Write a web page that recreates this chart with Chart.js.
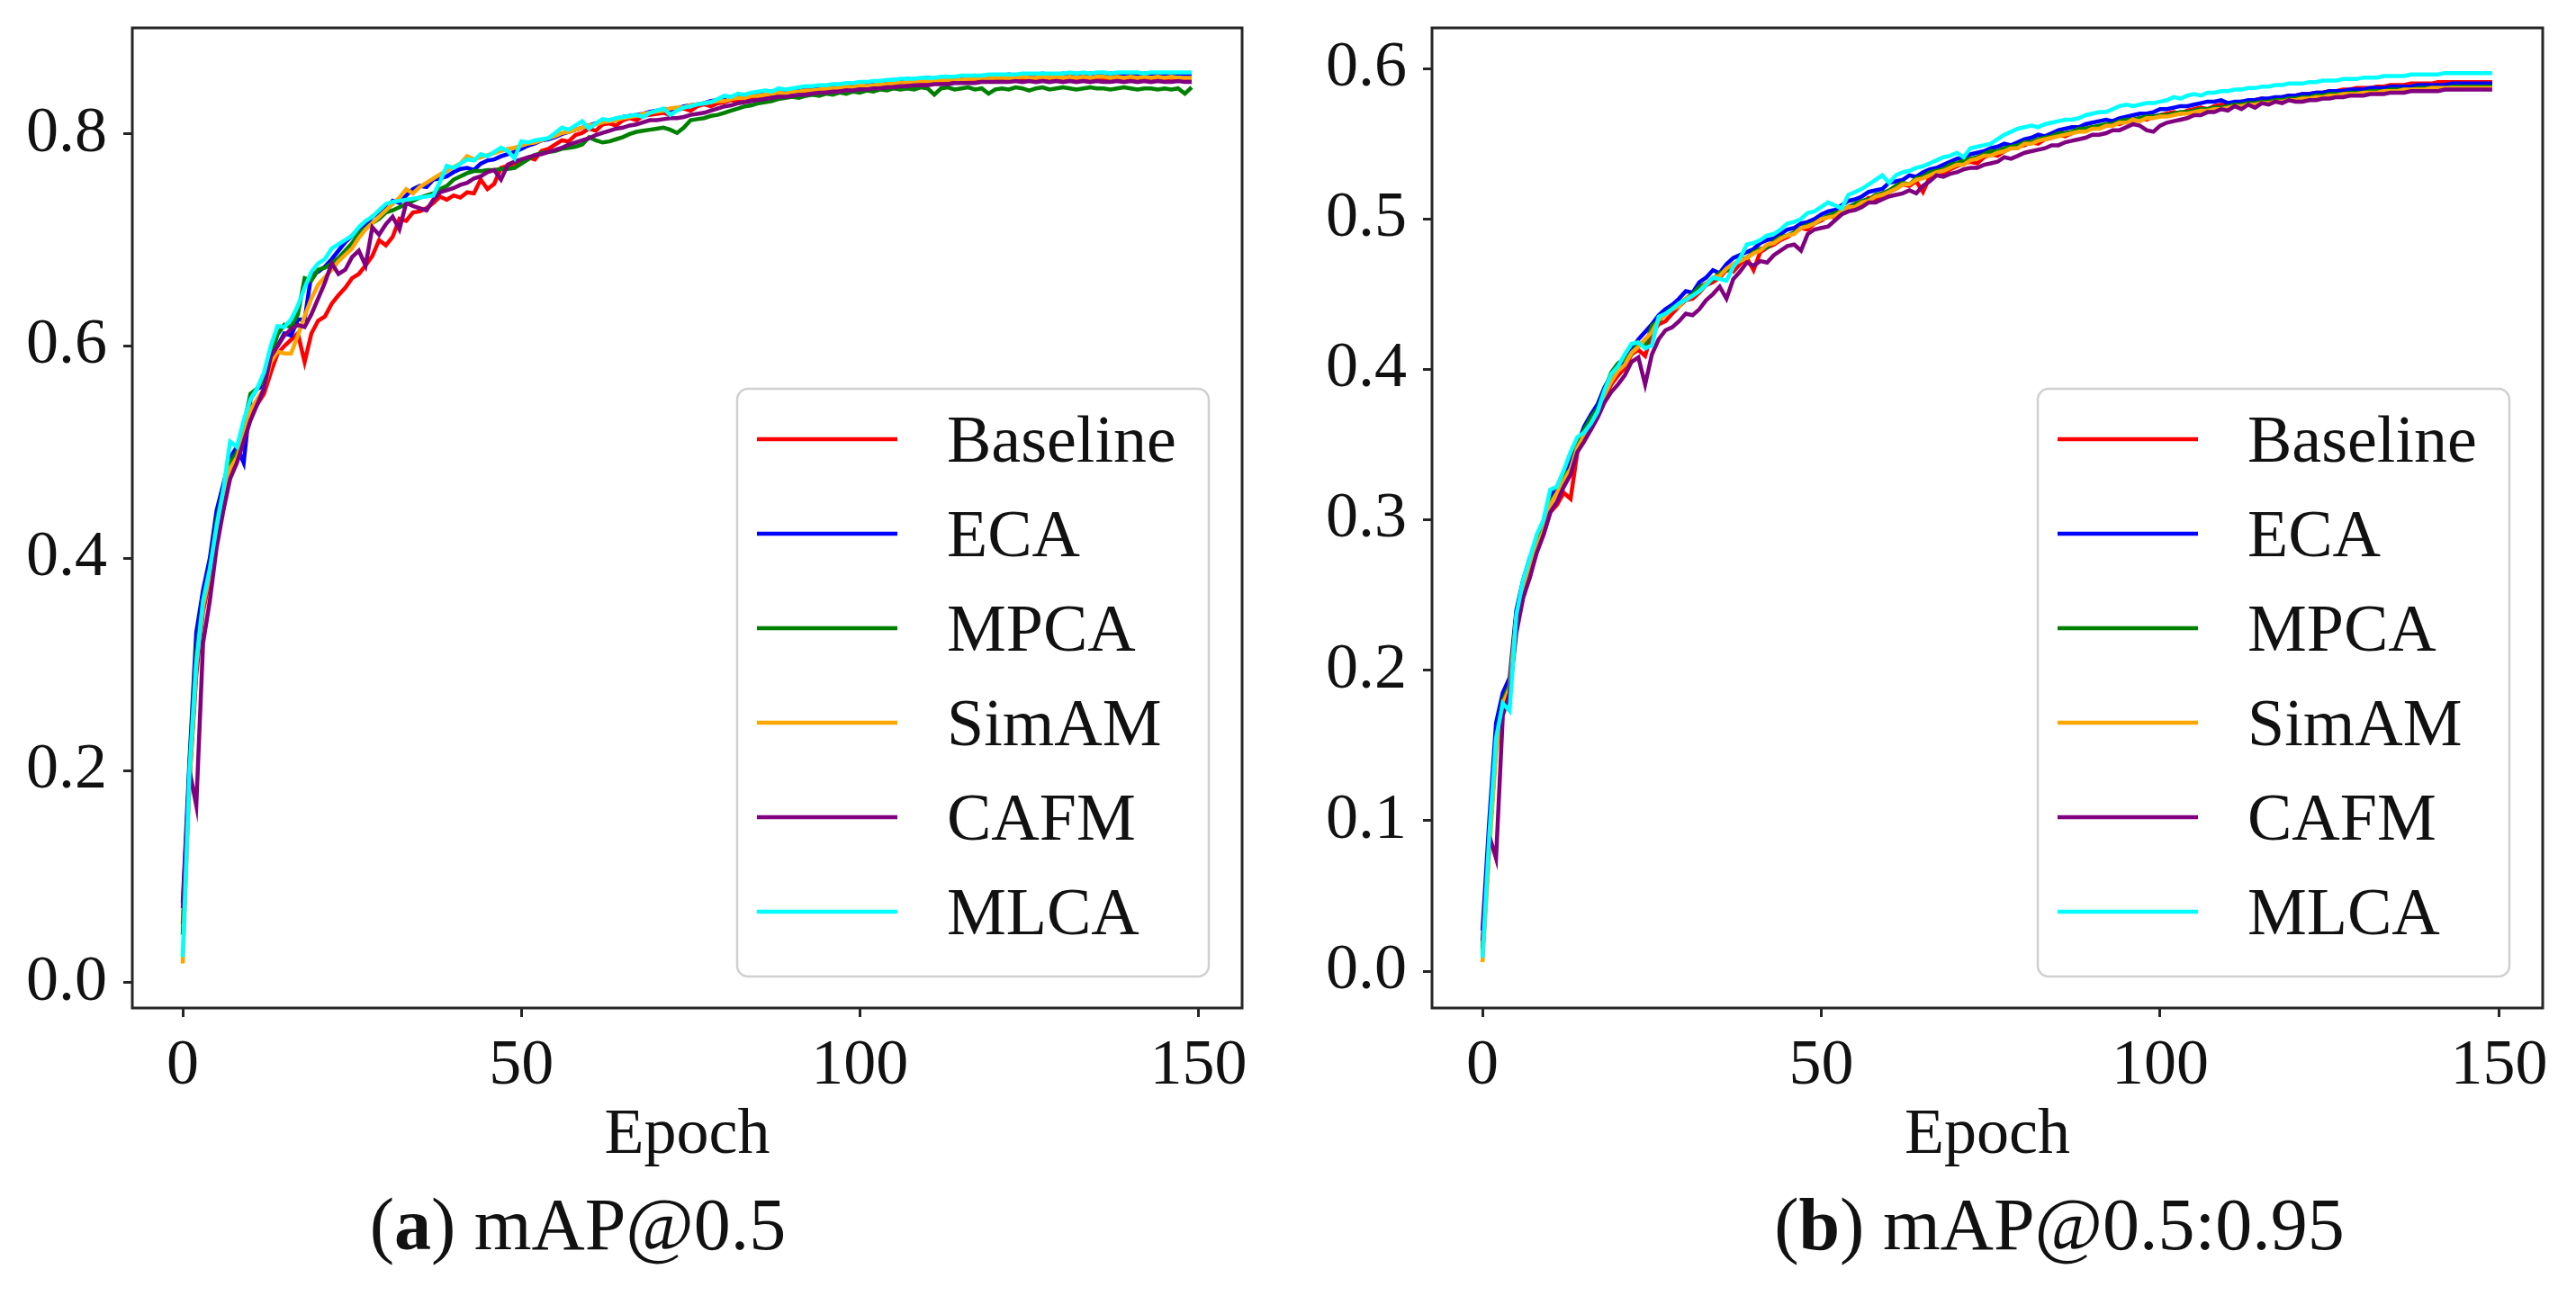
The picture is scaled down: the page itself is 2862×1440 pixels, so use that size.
<!DOCTYPE html>
<html>
<head>
<meta charset="utf-8">
<script src="https://cdn.jsdelivr.net/npm/chart.js@4.4.1/dist/chart.umd.min.js"></script>
<style>
  html, body { margin: 0; padding: 0; background: #fff; }
  #page { position: relative; width: 2862px; height: 1440px; background: #fff; overflow: hidden; }
  canvas { position: absolute; top: 0; }
  .caption {
    position: absolute; width: 900px; text-align: center;
    font-family: "Liberation Serif", "Times New Roman", serif; font-size: 82px;
    line-height: 80px; color: #111; white-space: nowrap;
  }
</style>
</head>
<body>
<div id="page">
  <canvas id="chartA" width="1431" height="1320" style="left:0px"></canvas>
  <canvas id="chartB" width="1431" height="1320" style="left:1431px"></canvas>
  <div class="caption" style="left:192px; top:1321px">(<b>a</b>) mAP@0.5</div>
  <div class="caption" style="left:1838px; top:1321px">(<b>b</b>) mAP@0.5:0.95</div>
</div>
<script>
// ---- data ----
const epochs = Array.from({ length: 150 }, (_, i) => i);
const modelNames = ['Baseline', 'ECA', 'MPCA', 'SimAM', 'CAFM', 'MLCA'];
const modelColors = ['#ff0000', '#0000ff', '#008000', '#ffa500', '#800080', '#00ffff'];
const xTicks = [0, 50, 100, 150];
const map50Ticks = [0.0, 0.2, 0.4, 0.6, 0.8];
const map5095Ticks = [0.0, 0.1, 0.2, 0.3, 0.4, 0.5, 0.6];

// mAP@0.5
const map50Baseline = [
  0.055, 0.19, 0.29, 0.35, 0.38, 0.42, 0.45, 0.48, 0.495, 0.51,
  0.535, 0.545, 0.555, 0.575, 0.593, 0.60, 0.606, 0.612, 0.585, 0.612,
  0.624, 0.628, 0.64, 0.648, 0.655, 0.664, 0.668, 0.676, 0.685, 0.70,
  0.695, 0.703, 0.72, 0.718, 0.726, 0.727, 0.73, 0.735, 0.741, 0.738,
  0.742, 0.74, 0.745, 0.744, 0.757, 0.748, 0.753, 0.768, 0.77, 0.772,
  0.775, 0.778, 0.776, 0.784, 0.786, 0.79, 0.794, 0.793, 0.799, 0.801,
  0.805, 0.803, 0.809, 0.81, 0.808, 0.813, 0.815, 0.813, 0.817, 0.818,
  0.819, 0.82, 0.818, 0.823, 0.824, 0.822, 0.826, 0.828, 0.826, 0.829,
  0.83, 0.832, 0.83, 0.834, 0.833, 0.835, 0.837, 0.835, 0.838, 0.838,
  0.839, 0.84, 0.838, 0.841, 0.842, 0.84, 0.843, 0.842, 0.844, 0.843,
  0.845, 0.844, 0.846, 0.845, 0.847, 0.846, 0.848, 0.847, 0.848, 0.849,
  0.848, 0.849, 0.85, 0.849, 0.85, 0.849, 0.85, 0.851, 0.85, 0.851,
  0.851, 0.852, 0.85, 0.852, 0.851, 0.852, 0.853, 0.852, 0.852, 0.853,
  0.852, 0.853, 0.852, 0.853, 0.852, 0.853, 0.852, 0.853, 0.852, 0.853,
  0.852, 0.853, 0.852, 0.852, 0.853, 0.852, 0.853, 0.852, 0.852, 0.852
];
const map50ECA = [
  0.075, 0.21, 0.33, 0.37, 0.40, 0.445, 0.47, 0.495, 0.505, 0.49,
  0.55, 0.56, 0.562, 0.595, 0.60, 0.612, 0.61, 0.625, 0.625, 0.668,
  0.67, 0.675, 0.682, 0.69, 0.698, 0.704, 0.71, 0.714, 0.722, 0.726,
  0.73, 0.737, 0.735, 0.742, 0.748, 0.751, 0.75, 0.757, 0.758, 0.76,
  0.764, 0.767, 0.768, 0.766, 0.772, 0.775, 0.776, 0.779, 0.781, 0.783,
  0.786, 0.789, 0.791, 0.794, 0.795, 0.797, 0.80, 0.802, 0.804, 0.806,
  0.808, 0.81, 0.811, 0.813, 0.814, 0.816, 0.817, 0.818, 0.819, 0.821,
  0.822, 0.823, 0.823, 0.824, 0.826, 0.827, 0.828, 0.829, 0.831, 0.832,
  0.833, 0.834, 0.836, 0.835, 0.837, 0.838, 0.839, 0.84, 0.839, 0.841,
  0.842, 0.841, 0.843, 0.844, 0.843, 0.845, 0.846, 0.845, 0.847, 0.846,
  0.848, 0.847, 0.849, 0.85, 0.849, 0.851, 0.85, 0.852, 0.851, 0.852,
  0.853, 0.852, 0.853, 0.854, 0.853, 0.854, 0.853, 0.855, 0.854, 0.855,
  0.854, 0.855, 0.856, 0.855, 0.856, 0.855, 0.856, 0.857, 0.856, 0.856,
  0.857, 0.856, 0.857, 0.856, 0.857, 0.857, 0.856, 0.857, 0.857, 0.856,
  0.857, 0.856, 0.857, 0.857, 0.856, 0.857, 0.856, 0.857, 0.856, 0.856
];
const map50MPCA = [
  0.045, 0.205, 0.31, 0.36, 0.39, 0.435, 0.465, 0.49, 0.50, 0.525,
  0.555, 0.56, 0.57, 0.59, 0.611, 0.62, 0.618, 0.63, 0.664, 0.662,
  0.672, 0.674, 0.678, 0.683, 0.69, 0.697, 0.706, 0.711, 0.716, 0.72,
  0.726, 0.728, 0.731, 0.734, 0.737, 0.74, 0.742, 0.744, 0.748, 0.751,
  0.757, 0.76, 0.763, 0.765, 0.765, 0.766, 0.766, 0.767, 0.767, 0.768,
  0.772, 0.776, 0.78, 0.782, 0.783, 0.784, 0.786, 0.787, 0.788, 0.79,
  0.797, 0.794, 0.792, 0.793, 0.795, 0.797, 0.80, 0.802, 0.803, 0.804,
  0.805, 0.806, 0.804, 0.801, 0.806, 0.813, 0.814, 0.815, 0.817, 0.818,
  0.82, 0.822, 0.824, 0.826, 0.827, 0.829, 0.83, 0.831, 0.833, 0.834,
  0.835, 0.834, 0.836, 0.837, 0.836, 0.838, 0.837, 0.839, 0.838, 0.84,
  0.839, 0.841, 0.84, 0.842, 0.841, 0.843, 0.842, 0.843, 0.842, 0.844,
  0.843, 0.837, 0.843, 0.844, 0.842, 0.843, 0.844, 0.842, 0.843, 0.838,
  0.842, 0.843, 0.842, 0.844, 0.843, 0.841, 0.843, 0.844, 0.842, 0.843,
  0.844, 0.843, 0.842, 0.843, 0.844, 0.843, 0.843, 0.842, 0.843, 0.844,
  0.843, 0.842, 0.843, 0.843, 0.842, 0.843, 0.842, 0.843, 0.838, 0.844
];
const map50SimAM = [
  0.018, 0.19, 0.30, 0.355, 0.385, 0.425, 0.455, 0.485, 0.495, 0.515,
  0.54, 0.55, 0.56, 0.585, 0.595, 0.593, 0.593, 0.61, 0.628, 0.645,
  0.658, 0.665, 0.672, 0.68, 0.686, 0.692, 0.702, 0.71, 0.716, 0.722,
  0.728, 0.734, 0.74, 0.748, 0.744, 0.75, 0.754, 0.758, 0.762, 0.765,
  0.769, 0.772, 0.779, 0.776, 0.778, 0.78, 0.782, 0.784, 0.786, 0.787,
  0.789, 0.791, 0.792, 0.794, 0.796, 0.798, 0.801, 0.802, 0.804, 0.806,
  0.808, 0.809, 0.811, 0.812, 0.813, 0.815, 0.816, 0.817, 0.819, 0.82,
  0.821, 0.822, 0.824, 0.825, 0.825, 0.827, 0.828, 0.829, 0.83, 0.831,
  0.831, 0.833, 0.834, 0.834, 0.836, 0.836, 0.837, 0.838, 0.839, 0.838,
  0.84, 0.84, 0.841, 0.841, 0.842, 0.843, 0.843, 0.844, 0.845, 0.844,
  0.846, 0.845, 0.846, 0.847, 0.847, 0.848, 0.848, 0.849, 0.849, 0.85,
  0.85, 0.85, 0.851, 0.851, 0.852, 0.851, 0.852, 0.852, 0.853, 0.852,
  0.853, 0.853, 0.852, 0.853, 0.854, 0.853, 0.853, 0.854, 0.853, 0.854,
  0.853, 0.854, 0.853, 0.854, 0.853, 0.854, 0.854, 0.853, 0.854, 0.853,
  0.854, 0.853, 0.854, 0.853, 0.854, 0.853, 0.854, 0.853, 0.853, 0.853
];
const map50CAFM = [
  0.07, 0.20, 0.167, 0.32, 0.36, 0.41, 0.445, 0.475, 0.49, 0.51,
  0.53, 0.545, 0.56, 0.59, 0.60, 0.61, 0.616, 0.62, 0.618, 0.63,
  0.645, 0.66, 0.678, 0.668, 0.672, 0.684, 0.69, 0.676, 0.712, 0.705,
  0.715, 0.722, 0.71, 0.735, 0.732, 0.73, 0.728, 0.738, 0.745, 0.747,
  0.749, 0.752, 0.754, 0.758, 0.76, 0.764, 0.766, 0.757, 0.771, 0.774,
  0.776, 0.778, 0.78, 0.781, 0.783, 0.785, 0.787, 0.79, 0.792, 0.794,
  0.796, 0.799, 0.801, 0.803, 0.805, 0.806, 0.808, 0.809, 0.811, 0.813,
  0.813, 0.814, 0.815, 0.815, 0.816, 0.818, 0.819, 0.82, 0.822, 0.824,
  0.826, 0.827, 0.829, 0.83, 0.831, 0.832, 0.833, 0.834, 0.835, 0.835,
  0.836, 0.837, 0.837, 0.838, 0.839, 0.839, 0.84, 0.84, 0.841, 0.841,
  0.842, 0.842, 0.843, 0.843, 0.844, 0.844, 0.845, 0.845, 0.846, 0.846,
  0.846, 0.847, 0.847, 0.847, 0.848, 0.848, 0.848, 0.848, 0.849, 0.849,
  0.849, 0.849, 0.849, 0.85, 0.849, 0.85, 0.849, 0.85, 0.849, 0.85,
  0.849, 0.85, 0.849, 0.85, 0.849, 0.85, 0.849, 0.849, 0.85, 0.849,
  0.85, 0.849, 0.85, 0.849, 0.85, 0.849, 0.849, 0.85, 0.849, 0.849
];
const map50MLCA = [
  0.024, 0.20, 0.30, 0.36, 0.39, 0.43, 0.465, 0.51, 0.505, 0.53,
  0.55, 0.56, 0.575, 0.60, 0.619, 0.618, 0.625, 0.638, 0.655, 0.67,
  0.678, 0.682, 0.692, 0.696, 0.70, 0.704, 0.712, 0.718, 0.722, 0.728,
  0.734, 0.736, 0.737, 0.738, 0.739, 0.74, 0.741, 0.742, 0.755, 0.77,
  0.768, 0.772, 0.776, 0.775, 0.781, 0.779, 0.783, 0.787, 0.784, 0.777,
  0.793, 0.792, 0.794, 0.795, 0.796, 0.801, 0.806, 0.804, 0.808, 0.812,
  0.805, 0.81, 0.814, 0.813, 0.815, 0.816, 0.817, 0.818, 0.816, 0.82,
  0.822, 0.824, 0.818, 0.822, 0.825, 0.826, 0.828, 0.829, 0.83, 0.833,
  0.836, 0.835, 0.838, 0.837, 0.839, 0.84, 0.841, 0.84, 0.843, 0.842,
  0.843, 0.844, 0.845, 0.845, 0.846, 0.846, 0.847, 0.847, 0.848, 0.848,
  0.849, 0.849, 0.85, 0.85, 0.851, 0.851, 0.852, 0.852, 0.852, 0.853,
  0.853, 0.853, 0.854, 0.854, 0.854, 0.855, 0.855, 0.855, 0.855, 0.856,
  0.856, 0.856, 0.856, 0.856, 0.857, 0.857, 0.857, 0.857, 0.857, 0.857,
  0.857, 0.858, 0.857, 0.858, 0.857, 0.858, 0.858, 0.857, 0.858, 0.858,
  0.858, 0.858, 0.857, 0.858, 0.858, 0.858, 0.858, 0.858, 0.858, 0.858
];

// mAP@0.5:0.95
const map5095Baseline = [
  0.015, 0.085, 0.15, 0.175, 0.185, 0.23, 0.25, 0.262, 0.28, 0.29,
  0.305, 0.31, 0.318, 0.314, 0.345, 0.355, 0.36, 0.37, 0.38, 0.39,
  0.396, 0.401, 0.41, 0.413, 0.409, 0.424, 0.43, 0.432, 0.437, 0.442,
  0.446, 0.447, 0.451, 0.456, 0.458, 0.461, 0.466, 0.465, 0.47, 0.474,
  0.466, 0.478, 0.481, 0.483, 0.486, 0.488, 0.491, 0.494, 0.493, 0.497,
  0.499, 0.502, 0.501, 0.505, 0.508, 0.509, 0.511, 0.514, 0.513, 0.516,
  0.518, 0.52, 0.523, 0.522, 0.525, 0.518, 0.528, 0.531, 0.53, 0.533,
  0.535, 0.537, 0.538, 0.537, 0.541, 0.543, 0.542, 0.545, 0.547, 0.548,
  0.549, 0.551, 0.55, 0.553, 0.554, 0.556, 0.555, 0.557, 0.559, 0.56,
  0.561, 0.56, 0.562, 0.564, 0.563, 0.565, 0.566, 0.567, 0.566, 0.568,
  0.569, 0.57, 0.571, 0.57, 0.572, 0.573, 0.574, 0.573, 0.575, 0.576,
  0.576, 0.577, 0.578, 0.577, 0.579, 0.58, 0.579, 0.58, 0.581, 0.582,
  0.582, 0.583, 0.583, 0.584, 0.584, 0.585, 0.585, 0.586, 0.586, 0.587,
  0.587, 0.587, 0.588, 0.588, 0.589, 0.589, 0.589, 0.59, 0.59, 0.59,
  0.59, 0.591, 0.591, 0.591, 0.591, 0.591, 0.591, 0.591, 0.591, 0.591
];
const map5095ECA = [
  0.027, 0.10, 0.165, 0.185, 0.195, 0.24, 0.26, 0.275, 0.285, 0.297,
  0.315, 0.322, 0.332, 0.338, 0.35, 0.362, 0.37, 0.377, 0.388, 0.396,
  0.401, 0.407, 0.413, 0.42, 0.425, 0.43, 0.436, 0.44, 0.443, 0.447,
  0.452, 0.451, 0.458, 0.461, 0.466, 0.464, 0.47, 0.474, 0.476, 0.478,
  0.48, 0.484, 0.486, 0.487, 0.49, 0.493, 0.494, 0.497, 0.498, 0.50,
  0.503, 0.505, 0.506, 0.509, 0.512, 0.513, 0.515, 0.518, 0.519, 0.52,
  0.524, 0.525, 0.526, 0.529, 0.528, 0.531, 0.533, 0.534, 0.536, 0.538,
  0.54, 0.541, 0.543, 0.544, 0.545, 0.547, 0.548, 0.55, 0.549, 0.551,
  0.553, 0.554, 0.556, 0.555, 0.557, 0.559, 0.56, 0.561, 0.561, 0.563,
  0.564, 0.565, 0.566, 0.565, 0.567, 0.568, 0.569, 0.57, 0.57, 0.571,
  0.573, 0.573, 0.574, 0.575, 0.575, 0.576, 0.577, 0.578, 0.578, 0.579,
  0.577, 0.578, 0.578, 0.579, 0.579, 0.58, 0.58, 0.581, 0.581, 0.582,
  0.582, 0.583, 0.583, 0.584, 0.584, 0.585, 0.585, 0.585, 0.586, 0.586,
  0.586, 0.587, 0.587, 0.587, 0.588, 0.588, 0.588, 0.588, 0.589, 0.589,
  0.589, 0.589, 0.589, 0.59, 0.59, 0.59, 0.59, 0.59, 0.59, 0.59
];
const map5095MPCA = [
  0.012, 0.085, 0.15, 0.18, 0.19, 0.235, 0.255, 0.27, 0.285, 0.294,
  0.312, 0.318, 0.33, 0.333, 0.35, 0.36, 0.368, 0.374, 0.386, 0.398,
  0.404, 0.407, 0.41, 0.418, 0.415, 0.429, 0.432, 0.437, 0.441, 0.443,
  0.447, 0.45, 0.455, 0.457, 0.46, 0.464, 0.466, 0.469, 0.473, 0.474,
  0.478, 0.48, 0.481, 0.485, 0.488, 0.489, 0.491, 0.494, 0.496, 0.497,
  0.50, 0.502, 0.504, 0.505, 0.508, 0.51, 0.512, 0.513, 0.516, 0.517,
  0.519, 0.522, 0.524, 0.523, 0.527, 0.528, 0.531, 0.532, 0.533, 0.536,
  0.537, 0.539, 0.54, 0.541, 0.543, 0.545, 0.545, 0.547, 0.548, 0.549,
  0.551, 0.551, 0.553, 0.554, 0.555, 0.557, 0.557, 0.558, 0.56, 0.56,
  0.561, 0.562, 0.563, 0.563, 0.565, 0.566, 0.566, 0.567, 0.568, 0.568,
  0.569, 0.569, 0.57, 0.571, 0.571, 0.572, 0.573, 0.573, 0.574, 0.574,
  0.575, 0.576, 0.576, 0.577, 0.577, 0.578, 0.578, 0.579, 0.579, 0.58,
  0.58, 0.581, 0.581, 0.582, 0.582, 0.583, 0.583, 0.583, 0.584, 0.584,
  0.584, 0.585, 0.585, 0.585, 0.586, 0.586, 0.586, 0.586, 0.587, 0.587,
  0.587, 0.587, 0.587, 0.588, 0.588, 0.588, 0.588, 0.588, 0.588, 0.588
];
const map5095SimAM = [
  0.006, 0.08, 0.145, 0.178, 0.188, 0.235, 0.252, 0.268, 0.282, 0.293,
  0.31, 0.318, 0.326, 0.334, 0.348, 0.356, 0.364, 0.372, 0.383, 0.392,
  0.399, 0.403, 0.411, 0.415, 0.42, 0.425, 0.433, 0.436, 0.44, 0.442,
  0.447, 0.449, 0.452, 0.457, 0.461, 0.462, 0.467, 0.47, 0.472, 0.474,
  0.477, 0.479, 0.483, 0.484, 0.487, 0.489, 0.49, 0.494, 0.495, 0.497,
  0.50, 0.501, 0.502, 0.505, 0.508, 0.508, 0.511, 0.512, 0.515, 0.516,
  0.518, 0.52, 0.523, 0.523, 0.526, 0.527, 0.529, 0.531, 0.532, 0.534,
  0.536, 0.536, 0.539, 0.54, 0.542, 0.542, 0.544, 0.545, 0.547, 0.547,
  0.55, 0.55, 0.552, 0.553, 0.554, 0.555, 0.556, 0.557, 0.558, 0.558,
  0.56, 0.56, 0.562, 0.562, 0.564, 0.564, 0.566, 0.565, 0.567, 0.567,
  0.568, 0.568, 0.569, 0.57, 0.57, 0.571, 0.572, 0.572, 0.573, 0.573,
  0.574, 0.575, 0.575, 0.576, 0.576, 0.577, 0.577, 0.578, 0.578, 0.579,
  0.579, 0.58, 0.58, 0.581, 0.581, 0.582, 0.582, 0.583, 0.583, 0.583,
  0.584, 0.584, 0.584, 0.585, 0.585, 0.585, 0.586, 0.586, 0.586, 0.586,
  0.587, 0.587, 0.587, 0.587, 0.587, 0.587, 0.587, 0.587, 0.587, 0.587
];
const map5095CAFM = [
  0.02, 0.09, 0.075, 0.17, 0.185, 0.225, 0.248, 0.262, 0.278, 0.29,
  0.305, 0.312, 0.322, 0.33, 0.345, 0.352, 0.36, 0.368, 0.378, 0.385,
  0.39, 0.396, 0.405, 0.408, 0.39, 0.41, 0.42, 0.426, 0.428, 0.432,
  0.437, 0.436, 0.44, 0.446, 0.45, 0.455, 0.447, 0.46, 0.465, 0.471,
  0.469, 0.472, 0.471, 0.476, 0.479, 0.482, 0.483, 0.479, 0.49, 0.493,
  0.494, 0.495, 0.499, 0.503, 0.505, 0.506, 0.508, 0.511, 0.511, 0.513,
  0.515, 0.516, 0.517, 0.519, 0.517, 0.522, 0.525, 0.529, 0.528, 0.53,
  0.531, 0.533, 0.534, 0.534, 0.536, 0.537, 0.538, 0.541, 0.54, 0.542,
  0.544, 0.545, 0.546, 0.547, 0.549, 0.549, 0.551, 0.552, 0.553, 0.554,
  0.556, 0.556, 0.557, 0.559, 0.559, 0.561, 0.563, 0.562, 0.559, 0.558,
  0.562, 0.564, 0.565, 0.566, 0.567, 0.569, 0.569, 0.571, 0.571, 0.573,
  0.572, 0.575, 0.573, 0.576, 0.574, 0.577, 0.576, 0.578, 0.577, 0.579,
  0.578, 0.578, 0.579, 0.579, 0.58, 0.58, 0.581, 0.581, 0.582, 0.582,
  0.582, 0.583, 0.583, 0.583, 0.584, 0.584, 0.584, 0.585, 0.585, 0.585,
  0.585, 0.585, 0.586, 0.586, 0.586, 0.586, 0.586, 0.586, 0.586, 0.586
];
const map5095MLCA = [
  0.009, 0.09, 0.155, 0.178, 0.173, 0.237, 0.26, 0.275, 0.29, 0.30,
  0.32, 0.322, 0.333, 0.345, 0.355, 0.358, 0.364, 0.372, 0.386, 0.397,
  0.402, 0.41, 0.417, 0.418, 0.414, 0.416, 0.435, 0.437, 0.44, 0.444,
  0.446, 0.449, 0.452, 0.456, 0.461, 0.46, 0.459, 0.468, 0.474, 0.483,
  0.484, 0.486, 0.489, 0.49, 0.493, 0.497, 0.498, 0.50, 0.504, 0.505,
  0.508, 0.511, 0.509, 0.507, 0.516, 0.518, 0.52, 0.523, 0.526, 0.529,
  0.524, 0.529, 0.531, 0.532, 0.534, 0.535, 0.537, 0.539, 0.541, 0.542,
  0.544, 0.541, 0.547, 0.548, 0.549, 0.55, 0.553, 0.556, 0.558, 0.56,
  0.561, 0.562, 0.561, 0.563, 0.564, 0.565, 0.566, 0.566, 0.567, 0.569,
  0.57, 0.571, 0.571, 0.573, 0.575, 0.576, 0.575, 0.576, 0.577, 0.577,
  0.578, 0.579, 0.581, 0.58, 0.582, 0.583, 0.582, 0.584, 0.584, 0.585,
  0.585, 0.586, 0.586, 0.587, 0.587, 0.588, 0.588, 0.589, 0.589, 0.59,
  0.59, 0.59, 0.591, 0.591, 0.592, 0.592, 0.592, 0.593, 0.593, 0.593,
  0.594, 0.594, 0.594, 0.595, 0.595, 0.595, 0.595, 0.596, 0.596, 0.596,
  0.596, 0.596, 0.597, 0.597, 0.597, 0.597, 0.597, 0.597, 0.597, 0.597
];

const FONT_FAMILY = '"Liberation Serif", "Times New Roman", serif';

/**
 * frame + legend plugin
 * draws the four spines and a matplotlib-like legend box
 */
const frameLegendPlugin = {
  id: 'frameLegend',
  afterDraw(chart) {
    const { ctx, chartArea } = chart;
    ctx.save();
    ctx.lineWidth = 3;
    ctx.strokeStyle = '#262626';
    ctx.strokeRect(chartArea.left, chartArea.top,
      chartArea.right - chartArea.left, chartArea.bottom - chartArea.top);

    // legend box
    const w = 524, h = 653;
    const bx = chartArea.right - 37 - w;
    const by = chartArea.bottom - 35 - h;
    ctx.beginPath();
    ctx.roundRect(bx, by, w, h, 12);
    ctx.fillStyle = 'rgba(255,255,255,0.85)';
    ctx.fill();
    ctx.lineWidth = 2.5;
    ctx.strokeStyle = '#d0d0d0';
    ctx.stroke();

    ctx.font = '74px ' + FONT_FAMILY;
    ctx.textBaseline = 'alphabetic';
    ctx.textAlign = 'left';
    chart.data.datasets.forEach((ds, i) => {
      const rowY = by + 56 + i * 105;
      ctx.beginPath();
      ctx.moveTo(bx + 22, rowY);
      ctx.lineTo(bx + 178, rowY);
      ctx.lineWidth = 4.5;
      ctx.strokeStyle = ds.borderColor;
      ctx.stroke();
      ctx.fillStyle = '#111';
      ctx.fillText(ds.label, bx + 233, rowY + 25);
    });
    ctx.restore();
  }
};

/**
 * lineChartInit
 * one training-curve panel
 */
function lineChartInit(canvasId, series, yRange, yTicks, yAxisWidth, rightPad) {
  const ctx = document.getElementById(canvasId);
  const datasets = series.map((values, i) => ({
    label: modelNames[i],
    data: values.map((v, k) => ({ x: epochs[k], y: v })),
    borderColor: modelColors[i],
    backgroundColor: modelColors[i],
    borderWidth: 4.5,
    pointRadius: 0,
    tension: 0,
    fill: false,
    // matplotlib draws later lines on top
    order: series.length - 1 - i,
  }));

  const tickFont = { family: FONT_FAMILY, size: 72 };

  return new Chart(ctx, {
    type: 'line',
    data: { datasets: datasets },
    plugins: [frameLegendPlugin],
    options: {
      responsive: false,
      animation: false,
      devicePixelRatio: 1,
      layout: { padding: { top: 31, right: rightPad, bottom: 0, left: 0 } },
      plugins: {
        legend: { display: false },
        tooltip: { enabled: false },
      },
      scales: {
        x: {
          type: 'linear',
          min: -7.45,
          max: 156.45,
          afterBuildTicks: (axis) => { axis.ticks = xTicks.map(v => ({ value: v })); },
          afterFit: (axis) => {
            axis.height = 200;
            axis.paddingLeft = 0;
            axis.paddingRight = 0;
          },
          border: { display: false },
          grid: { drawOnChartArea: false, drawTicks: true, tickLength: 10, tickWidth: 3, tickColor: '#262626' },
          ticks: { font: tickFont, color: '#111', padding: 12, maxRotation: 0, autoSkip: false },
          title: { display: true, text: 'Epoch', font: tickFont, color: '#111', padding: { top: 0, bottom: 15 } },
        },
        y: {
          type: 'linear',
          min: yRange.min,
          max: yRange.max,
          afterBuildTicks: (axis) => { axis.ticks = yTicks.map(v => ({ value: v })); },
          afterFit: (axis) => {
            axis.width = yAxisWidth;
            axis.paddingTop = 0;
            axis.paddingBottom = 0;
          },
          border: { display: false },
          grid: { drawOnChartArea: false, drawTicks: true, tickLength: 10, tickWidth: 3, tickColor: '#262626' },
          ticks: {
            font: tickFont, color: '#111', padding: 18, autoSkip: false,
            callback: (value) => Number(value).toFixed(1),
          },
        },
      },
    },
  });
}

/**
 * chartsInit
 * both panels
 */
function chartsInit() {
  // (a) mAP@0.5
  lineChartInit('chartA',
    [map50Baseline, map50ECA, map50MPCA, map50SimAM, map50CAFM, map50MLCA],
    { min: -0.024, max: 0.9 }, map50Ticks, 147, 51);

  // (b) mAP@0.5:0.95
  lineChartInit('chartB',
    [map5095Baseline, map5095ECA, map5095MPCA, map5095SimAM, map5095CAFM, map5095MLCA],
    { min: -0.0245, max: 0.627 }, map5095Ticks, 160, 37);
}

chartsInit();
</script>
</body>
</html>
